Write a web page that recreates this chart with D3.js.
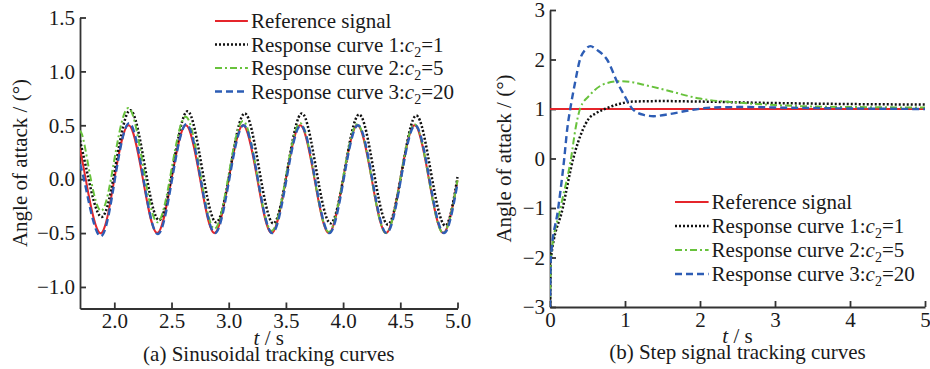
<!DOCTYPE html>
<html>
<head>
<meta charset="utf-8">
<script src="https://cdn.jsdelivr.net/npm/d3@7"></script>
<style>
	body { margin: 0; background: #fff; }
	svg text { font-family: 'Liberation Serif', 'Times New Roman', serif; fill: #1a1a1a; }
</style>
</head>
<body>
<svg id="chart" width="930" height="369"></svg>
<script>
'use strict';

// (a) sinusoidal tracking, points are [t (s), angle (deg)]
var sinRef = [[1.70,0.29],[1.75,0],[1.875,-0.5],[2.0,0],[2.125,0.5],[2.25,0],[2.375,-0.5],[2.5,0],
	[2.625,0.5],[2.75,0],[2.875,-0.5],[3.0,0],[3.125,0.5],[3.25,0],[3.375,-0.5],[3.5,0],[3.625,0.5],
	[3.75,0],[3.875,-0.5],[4.0,0],[4.125,0.5],[4.25,0],[4.375,-0.5],[4.5,0],[4.625,0.5],[4.75,0],
	[4.875,-0.5],[5.0,-0.01]];
var sinC1 = [[1.70,0.36],[1.765,0.05],[1.89,-0.35],[2.015,0.15],[2.14,0.64],[2.265,0.13],[2.39,-0.38],
	[2.515,0.12],[2.64,0.63],[2.765,0.11],[2.89,-0.40],[3.015,0.10],[3.14,0.61],[3.265,0.10],[3.39,-0.41],
	[3.515,0.10],[3.64,0.61],[3.765,0.09],[3.89,-0.41],[4.015,0.09],[4.14,0.60],[4.265,0.09],[4.39,-0.42],
	[4.515,0.08],[4.64,0.59],[4.765,0.08],[4.89,-0.43],[5.0,0.02]];
var sinC2 = [[1.70,0.45],[1.75,0.26],[1.875,-0.29],[2.0,0.18],[2.125,0.66],[2.25,0.13],[2.375,-0.40],
	[2.5,0.09],[2.625,0.58],[2.75,0.06],[2.875,-0.46],[3.0,0.04],[3.125,0.54],[3.25,0.03],[3.375,-0.48],
	[3.5,0.02],[3.625,0.52],[3.75,0.01],[3.875,-0.49],[4.0,0.01],[4.125,0.51],[4.25,0.0],[4.375,-0.5],
	[4.5,0.0],[4.625,0.51],[4.75,0.0],[4.875,-0.5],[5.0,-0.01]];
var sinC3 = [[1.70,0.14],[1.755,-0.10],[1.88,-0.53],[2.005,0.0],[2.13,0.52],[2.255,0.0],[2.38,-0.51],
	[2.505,0.0],[2.63,0.51],[2.755,0.0],[2.88,-0.5],[3.005,0.0],[3.13,0.5],[3.255,0.0],[3.38,-0.5],
	[3.505,0.0],[3.63,0.5],[3.755,0.0],[3.88,-0.5],[4.005,0.0],[4.13,0.5],[4.255,0.0],[4.38,-0.5],
	[4.505,0.0],[4.63,0.5],[4.755,0.0],[4.88,-0.5],[5.0,-0.04]];

// (b) step tracking
var stepRef = [[0,1],[5,1]];
var stepC1 = [[0,-3],[0.01,-2.05],[0.17,-1],[0.31,0],[0.44,0.59],[0.51,0.79],[0.62,0.92],[0.78,1.03],
	[0.92,1.10],[1.1,1.15],[1.5,1.16],[2.0,1.15],[3.0,1.12],[4.0,1.10],[5.0,1.09]];
var stepC2 = [[0,-3],[0.01,-2.05],[0.14,-1],[0.28,0],[0.34,0.6],[0.4,1.0],[0.53,1.28],[0.75,1.52],
	[0.93,1.56],[1.1,1.54],[1.25,1.49],[1.5,1.40],[2.0,1.21],[2.5,1.13],[3.0,1.08],[3.5,1.05],
	[4.0,1.04],[5.0,1.03]];
var stepC3 = [[0,-3],[0.01,-2.05],[0.11,-1],[0.19,0],[0.23,0.6],[0.27,1.0],[0.33,1.5],[0.4,2.0],
	[0.47,2.2],[0.54,2.27],[0.62,2.2],[0.76,2.0],[0.91,1.5],[1.0,1.25],[1.1,1.0],[1.25,0.88],
	[1.38,0.855],[1.6,0.9],[1.85,0.97],[2.17,1.03],[2.6,1.04],[3.0,1.03],[4.0,1.01],[5.0,1.0]];

var sinXTicks = [2.0, 2.5, 3.0, 3.5, 4.0, 4.5, 5.0];
var sinYTicks = [-1.0, -0.5, 0.0, 0.5, 1.0, 1.5];
var stepXTicks = [0, 1, 2, 3, 4, 5];
var stepYTicks = [-3, -2, -1, 0, 1, 2, 3];

var legendNames = ['Reference signal', 'Response curve 1:', 'Response curve 2:', 'Response curve 3:'];
var legendC2 = [null, '1', '5', '20'];
var captions = ['(a) Sinusoidal tracking curves', '(b) Step signal tracking curves'];

var styles = [
	{ color: '#e5252b', width: 2, dash: null },
	{ color: '#111111', width: 2.5, dash: '2,2' },
	{ color: '#68c23c', width: 2, dash: '7,3,2,3' },
	{ color: '#2d5db5', width: 2.4, dash: '7,4' }
];

var svg = d3.select('#chart');

function styleLine (sel, st)	{
	return sel.attr('fill', 'none')
						.attr('stroke', st.color)
						.attr('stroke-width', st.width)
						.attr('stroke-dasharray', st.dash);
}

function drawAxis (g, axis)	{
	g.call(axis);
	g.attr('font-size', null).attr('font-family', null);
	g.selectAll('path, line').attr('stroke', '#333').attr('stroke-width', 1.8);
	g.selectAll('text').attr('fill', null).style('font-size', '21px');
}

function drawLegend (g, x, y, gap)	{
	legendNames.forEach(function (name, i)	{
		var cy = y + i * gap;

		styleLine(g.append('line'), styles[i])
			.attr('x1', x).attr('x2', x + gap * 1.4)
			.attr('y1', cy).attr('y2', cy);

		var t = g.append('text')
						 .attr('x', x + gap * 1.4 + 3)
						 .attr('y', cy + 7)
						 .style('font-size', '21px');

		t.append('tspan').text(name);
		if (legendC2[i])	{
			t.append('tspan').style('font-style', 'italic').text('c');
			t.append('tspan').style('font-size', '14px').attr('dy', 5).text('2');
			t.append('tspan').attr('dy', -5).text('=' + legendC2[i]);
		}
	});
}

function drawPanel (p)	{
	var x = d3.scaleLinear().domain(p.xDomain).range([p.left, p.right]),
			y = d3.scaleLinear().domain(p.yDomain).range([p.bottom, p.top]);

	var g = svg.append('g');

	g.append('clipPath').attr('id', 'clip' + p.id)
	 .append('rect')
	 .attr('x', p.left).attr('y', p.top - 5)
	 .attr('width', p.right - p.left + 2).attr('height', p.bottom - p.top + 5);

	drawAxis(g.append('g').attr('transform', 'translate(0,' + p.bottom + ')'),
		d3.axisBottom(x).tickValues(p.xTicks).tickFormat(d3.format(p.xFmt))
			.tickSizeInner(-6).tickSizeOuter(0).tickPadding(5));

	drawAxis(g.append('g').attr('transform', 'translate(' + p.left + ',0)'),
		d3.axisLeft(y).tickValues(p.yTicks).tickFormat(d3.format(p.yFmt))
			.tickSizeInner(-6).tickSizeOuter(0).tickPadding(5));

	var line = d3.line()
							 .x(function (d) { return x(d[0]); })
							 .y(function (d) { return y(d[1]); })
							 .curve(p.curve);

	var lines = g.append('g').attr('clip-path', 'url(#clip' + p.id + ')');

	p.series.forEach(function (s, i)	{
		styleLine(lines.append('path'), styles[i]).attr('d', line(s));
	});

	drawLegend(g, p.legendX, p.legendY, p.legendGap);

	var cx = (p.left + p.right) / 2;

	var xl = g.append('text').attr('x', cx).attr('y', p.bottom + 36)
						.attr('text-anchor', 'middle').style('font-size', '21px');
	xl.append('tspan').style('font-style', 'italic').text('t');
	xl.append('tspan').text(' / s');

	g.append('text')
	 .attr('transform', 'translate(' + p.labelX + ',' + ((p.top + p.bottom) / 2) + ') rotate(-90)')
	 .attr('text-anchor', 'middle')
	 .style('font-size', '21px')
	 .text('Angle of attack / (\u00b0)');

	g.append('text').attr('x', cx).attr('y', p.bottom + 52)
	 .attr('text-anchor', 'middle').style('font-size', '21px')
	 .text(p.caption);
}

drawPanel({
	id: 'a', left: 80, right: 457.5, top: 17.5, bottom: 308.5,
	xDomain: [1.7, 5.0], yDomain: [-1.2, 1.5],
	xTicks: sinXTicks, yTicks: sinYTicks, xFmt: '.1f', yFmt: '.1f',
	series: [sinRef, sinC1, sinC2, sinC3], curve: d3.curveNatural,
	legendX: 215, legendY: 21, legendGap: 23.5,
	labelX: 27, caption: captions[0]
});

drawPanel({
	id: 'b', left: 550, right: 925, top: 10, bottom: 307,
	xDomain: [0, 5], yDomain: [-3, 3],
	xTicks: stepXTicks, yTicks: stepYTicks, xFmt: 'd', yFmt: 'd',
	series: [stepRef, stepC1, stepC2, stepC3], curve: d3.curveMonotoneX,
	legendX: 675, legendY: 202, legendGap: 24,
	labelX: 511, caption: captions[1]
});
</script>
</body>
</html>
